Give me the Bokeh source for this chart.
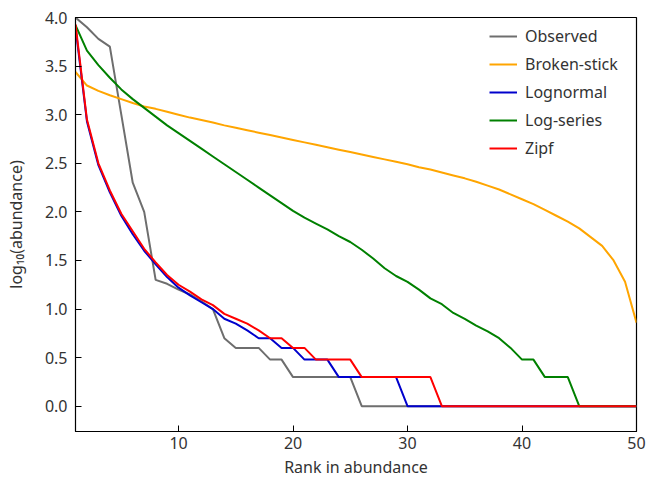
from bokeh.plotting import figure
from bokeh.models import Range1d, Legend, LegendItem, FixedTicker, NumeralTickFormatter
from bokeh.embed import file_html
from bokeh.resources import INLINE

ranks = list(range(1, 51))

observed = [4.0, 3.9, 3.78, 3.7, 3.0, 2.3, 2.0, 1.3, 1.26, 1.2,
            1.15, 1.08, 1.0, 0.7, 0.6, 0.6, 0.6, 0.48, 0.48, 0.3,
            0.3, 0.3, 0.3, 0.3, 0.3] + [0.0] * 25

broken_stick = [3.44, 3.30, 3.245, 3.20, 3.16, 3.12, 3.085, 3.06, 3.03, 3.00,
                2.97, 2.945, 2.92, 2.89, 2.865, 2.84, 2.815, 2.79, 2.765, 2.74,
                2.715, 2.69, 2.665, 2.64, 2.615, 2.59, 2.565, 2.54, 2.515, 2.49,
                2.46, 2.435, 2.405, 2.375, 2.345, 2.31, 2.27, 2.23, 2.18, 2.13,
                2.08, 2.02, 1.96, 1.90, 1.83, 1.74, 1.65, 1.50, 1.28, 0.86]

lognormal = [3.90, 2.93, 2.48, 2.20, 1.96, 1.77, 1.60, 1.46, 1.33, 1.22,
             1.14, 1.07, 1.0, 0.9, 0.85, 0.78, 0.7, 0.7, 0.6, 0.6,
             0.48, 0.48, 0.48, 0.3, 0.3, 0.3, 0.3, 0.3, 0.3] + [0.0] * 21

log_series = [3.92, 3.66, 3.51, 3.38, 3.26, 3.16, 3.07, 2.98, 2.89, 2.81,
              2.73, 2.65, 2.57, 2.49, 2.41, 2.33, 2.25, 2.17, 2.09, 2.01,
              1.94, 1.88, 1.82, 1.75, 1.69, 1.61, 1.52, 1.42, 1.34, 1.28,
              1.20, 1.11, 1.05, 0.96, 0.90, 0.83, 0.77, 0.70, 0.60, 0.48,
              0.48, 0.3, 0.3, 0.3] + [0.0] * 6

zipf = [3.93, 2.95, 2.50, 2.22, 1.98, 1.80, 1.62, 1.48, 1.35, 1.25,
        1.18, 1.10, 1.04, 0.95, 0.90, 0.85, 0.78, 0.70, 0.70, 0.60,
        0.60, 0.48, 0.48, 0.48, 0.48, 0.3, 0.3, 0.3, 0.3, 0.3,
        0.3, 0.3] + [0.0] * 18

series_names = ["Observed", "Broken-stick", "Lognormal", "Log-series", "Zipf"]
series_values = [observed, broken_stick, lognormal, log_series, zipf]
series_colors = ["#6e6e6e", "#ffa500", "#0000cc", "#008000", "#ff0000"]

x_ticks = [10, 20, 30, 40, 50]
y_ticks = [0.0, 0.5, 1.0, 1.5, 2.0, 2.5, 3.0, 3.5, 4.0]

FONT = "Noto Sans"

p = figure(width=648, height=483, output_backend="svg", toolbar_location=None,
           x_range=Range1d(1, 50), y_range=Range1d(-0.26, 4.0),
           min_border_left=75, min_border_top=17, min_border_right=12, min_border_bottom=52)

p.xgrid.visible = False
p.ygrid.visible = False
p.outline_line_color = "black"
p.outline_line_width = 1.2

items = []
for name, vals, col in zip(series_names, series_values, series_colors):
    r = p.line(ranks, vals, line_color=col, line_width=2)
    items.append(LegendItem(label=name, renderers=[r]))

for ax in (p.xaxis[0], p.yaxis[0]):
    ax.major_tick_in = 6
    ax.major_tick_out = 0
    ax.minor_tick_line_color = None
    ax.axis_line_color = "black"
    ax.major_tick_line_color = "black"
    ax.major_label_text_font = FONT
    ax.major_label_text_font_size = "16px"
    ax.major_label_text_color = "#333333"
    ax.axis_label_text_font = FONT
    ax.axis_label_text_font_size = "16px"
    ax.axis_label_text_color = "#333333"
    ax.axis_label_text_font_style = "normal"

p.xaxis.major_label_standoff = 5
p.yaxis.major_label_standoff = 8
p.xaxis.ticker = FixedTicker(ticks=x_ticks)
p.yaxis.ticker = FixedTicker(ticks=y_ticks)
p.yaxis.formatter = NumeralTickFormatter(format="0.0")
p.xaxis.axis_label = "Rank in abundance"
p.yaxis.axis_label = "log\u2081\u2080(abundance)"
p.xaxis.axis_label_standoff = 4
p.yaxis.axis_label_standoff = 15

legend = Legend(items=items, location=(414, 272), padding=0, margin=0,
                border_line_color=None, background_fill_alpha=0,
                label_text_font=FONT, label_text_font_size="16px",
                label_text_color="#333333", glyph_width=28, glyph_height=22,
                label_height=22, spacing=6, label_standoff=8)
p.add_layout(legend)

open("out.html", "w").write(file_html(p, INLINE))
